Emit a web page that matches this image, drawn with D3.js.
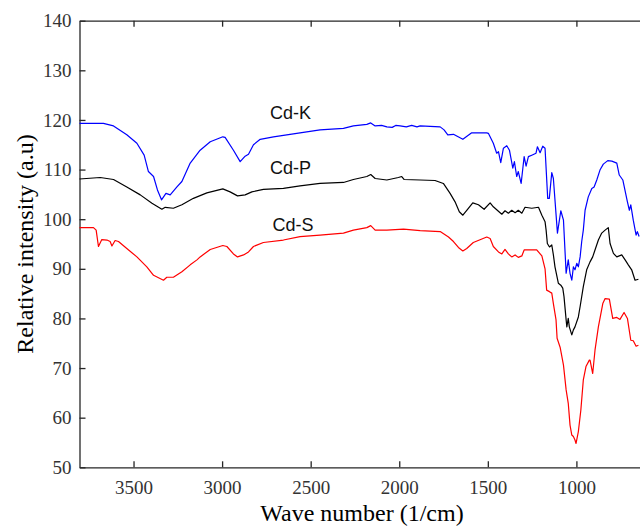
<!DOCTYPE html>
<html>
<head>
<meta charset="utf-8">
<script src="https://cdn.jsdelivr.net/npm/d3@7"></script>
<style>
  body { margin: 0; background: #fff; }
  .axis path, .axis line { stroke: #262626; stroke-width: 1.3; }
</style>
</head>
<body>
<div id="chart"></div>
<script>
var svgWidth = 640;
var svgHeight = 527;

// Cd-K (blue)
var kWave = [3805, 3670, 3613, 3538, 3481, 3440, 3416, 3387, 3365, 3342, 3317, 3293, 3255, 3227, 3180, 3124, 3067, 2996, 2983, 2936,
  2898, 2870, 2851, 2823, 2785, 2710, 2560, 2447, 2315, 2259, 2183, 2161, 2136, 2100, 2070, 2040, 2020, 1995, 1960, 1930,
  1900, 1882, 1769, 1747, 1726, 1694, 1641, 1591, 1506, 1497, 1469, 1450, 1440, 1427, 1412, 1393, 1378, 1359, 1350, 1337,
  1328, 1312, 1295, 1284, 1271, 1252, 1228, 1220, 1205, 1190, 1177, 1162, 1153, 1139, 1130, 1107, 1088, 1073, 1058, 1046,
  1036, 1026, 1017, 1008, 998, 989, 979, 970, 961, 951, 933, 913, 900, 885, 867, 848, 823, 800, 772, 758,
  738, 712, 701, 693, 679, 663, 656, 646];
var kInt = [119.3, 119.3, 118.8, 117.0, 115.3, 112.9, 109.6, 108.6, 105.9, 103.9, 105.2, 104.9, 106.5, 107.6, 111.3, 113.9, 115.6, 116.6, 116.5, 113.9,
  111.6, 112.7, 113.1, 115.0, 116.1, 116.6, 117.4, 118.0, 118.3, 118.8, 119.1, 119.4, 118.8, 118.9, 118.6, 118.5, 118.9, 118.8, 118.6, 118.9,
  118.6, 118.8, 118.6, 118.0, 117.0, 117.1, 116.1, 117.4, 117.4, 117.3, 115.3, 113.3, 113.6, 111.4, 114.3, 114.8, 113.9, 110.3, 111.6, 108.6,
  109.6, 107.2, 112.6, 110.7, 112.6, 112.9, 113.3, 114.6, 113.4, 114.7, 114.3, 104.2, 104.2, 109.4, 108.2, 97.2, 101.7, 99.8, 89.1, 91.8,
  89.1, 87.7, 90.4, 89.8, 91.1, 90.4, 92.4, 95.5, 97.8, 101.8, 104.5, 106.2, 106.5, 107.9, 109.9, 111.1, 111.8, 111.7, 111.3, 108.9,
  107.9, 103.5, 101.8, 102.9, 99.8, 96.8, 97.5, 96.5];

// Cd-P (black)
var pWave = [3805, 3688, 3613, 3538, 3462, 3396, 3340, 3321, 3275, 3227, 3162, 3086, 2996, 2955, 2913, 2870, 2832, 2767, 2654, 2560,
  2447, 2315, 2259, 2183, 2161, 2136, 2070, 2005, 1986, 1973, 1882, 1798, 1751, 1713, 1685, 1661, 1641, 1619, 1585, 1553,
  1521, 1487, 1469, 1421, 1403, 1384, 1365, 1346, 1328, 1308, 1290, 1252, 1214, 1195, 1177, 1171, 1164, 1152, 1139, 1130,
  1121, 1102, 1088, 1077, 1070, 1058, 1054, 1046, 1040, 1026, 1017, 1008, 989, 979, 961, 942, 923, 908, 895, 876,
  857, 838, 820, 810, 791, 772, 744, 725, 707, 688, 669, 650];
var pInt = [108.1, 108.4, 108.0, 106.5, 104.9, 103.2, 102.0, 102.4, 102.2, 102.9, 104.2, 105.3, 106.1, 105.5, 104.7, 104.9, 105.5, 106.0, 106.2, 106.7,
  107.2, 107.4, 108.0, 108.6, 109.0, 108.2, 107.9, 108.4, 108.6, 108.0, 107.9, 107.8, 107.2, 105.2, 103.5, 101.5, 100.8, 101.8, 103.3, 102.9,
  102.0, 103.3, 102.5, 101.0, 101.7, 101.2, 101.8, 101.3, 101.8, 101.2, 102.4, 102.2, 102.4, 100.8, 99.5, 97.8, 95.1, 94.4, 94.8, 92.8,
  90.4, 87.1, 86.7, 86.1, 84.4, 79.7, 78.3, 80.0, 78.3, 76.7, 77.7, 78.3, 80.3, 82.4, 86.4, 89.8, 91.4, 92.4, 93.8, 95.8,
  97.2, 97.8, 98.3, 95.1, 93.1, 92.4, 92.8, 91.8, 90.8, 89.8, 87.7, 87.9];

// Cd-S (red)
var sWave = [3805, 3726, 3711, 3698, 3679, 3650, 3632, 3622, 3604, 3585, 3538, 3481, 3425, 3387, 3331, 3312, 3275, 3227, 3180, 3142,
  3124, 3067, 2996, 2973, 2936, 2913, 2879, 2851, 2823, 2767, 2654, 2560, 2447, 2315, 2259, 2183, 2161, 2136, 2070, 1976,
  1882, 1769, 1722, 1694, 1666, 1641, 1619, 1582, 1506, 1487, 1469, 1440, 1421, 1403, 1384, 1365, 1346, 1328, 1308, 1295,
  1224, 1195, 1177, 1168, 1152, 1139, 1130, 1115, 1109, 1092, 1073, 1058, 1046, 1036, 1026, 1017, 1008, 1002, 989, 975,
  961, 946, 927, 923, 908, 895, 876, 851, 838, 814, 795, 772, 754, 731, 712, 693, 679, 663, 650];
var sInt = [98.3, 98.3, 97.8, 94.5, 95.9, 95.8, 95.5, 94.6, 95.7, 95.5, 94.1, 92.4, 90.4, 88.7, 87.7, 88.3, 88.3, 89.4, 90.8, 91.8,
  92.4, 93.9, 94.7, 94.5, 93.0, 92.4, 92.8, 93.4, 94.5, 95.3, 95.8, 96.5, 96.8, 97.2, 97.8, 98.3, 98.7, 97.8, 97.8, 98.0,
  97.7, 97.5, 96.4, 95.5, 94.3, 93.6, 94.1, 95.3, 96.4, 96.1, 94.5, 93.4, 93.0, 93.9, 93.0, 92.4, 92.8, 92.3, 92.6, 93.8,
  93.8, 92.6, 90.0, 85.7, 85.4, 85.1, 83.0, 79.7, 76.0, 74.2, 70.6, 65.6, 62.9, 58.5, 56.5, 56.2, 55.5, 54.8, 57.2, 61.5,
  67.6, 70.3, 71.6, 71.6, 68.9, 73.6, 78.3, 83.0, 84.0, 83.9, 80.0, 80.2, 79.8, 81.2, 80.0, 75.6, 75.5, 74.4, 74.6];

var seriesNames = ["Cd-K", "Cd-P", "Cd-S"];
var seriesColors = ["#0000ff", "#000000", "#ff0000"];
// label anchor points in data units (wave number, intensity)
var labelWave = [2730, 2730, 2715];
var labelInt = [120.2, 109.1, 97.6];

var xTicks = [3500, 3000, 2500, 2000, 1500, 1000];
var yTicks = [50, 60, 70, 80, 90, 100, 110, 120, 130, 140];

var plotLeft = 79.5, plotRight = 640, plotTop = 20.7, plotBottom = 467.3;
var serif = "Liberation Serif, Times New Roman, serif";

var svg = d3.select("#chart")
  .append("svg")
  .attr("width", svgWidth)
  .attr("height", svgHeight);

var x = d3.scaleLinear().domain([3805, 641]).range([plotLeft, plotRight]);
var y = d3.scaleLinear().domain([50, 140]).range([plotBottom, plotTop]);

// axes, ticks pointing inward
var xAxis = svg.append("g")
  .attr("class", "axis")
  .attr("transform", `translate(0, ${plotBottom})`)
  .call(d3.axisBottom(x).tickValues(xTicks).tickFormat(d3.format("d"))
    .tickSizeInner(-6).tickSizeOuter(0).tickPadding(13));

svg.append("g")
  .attr("class", "axis")
  .attr("transform", `translate(0, ${plotTop})`)
  .call(d3.axisTop(x).tickValues(xTicks).tickSizeInner(-6).tickSizeOuter(0).tickFormat(""));

var yAxis = svg.append("g")
  .attr("class", "axis")
  .attr("transform", `translate(${plotLeft}, 0)`)
  .call(d3.axisLeft(y).tickValues(yTicks).tickSizeInner(-6).tickSizeOuter(0).tickPadding(8));

[xAxis, yAxis].forEach(function(g) {
  g.selectAll(".tick text")
    .style("font-family", serif)
    .style("font-size", "19px")
    .attr("fill", "#333");
});

// spectra
var waves = [kWave, pWave, sWave];
var ints = [kInt, pInt, sInt];

var line = d3.line()
  .x(d => x(d[0]))
  .y(d => y(d[1]));

waves.forEach(function(w, i) {
  var pts = w.map((v, j) => [v, ints[i][j]]);
  svg.append("path")
    .datum(pts)
    .attr("fill", "none")
    .attr("stroke", seriesColors[i])
    .attr("stroke-width", 1.2)
    .attr("stroke-linejoin", "round")
    .attr("d", line);

  svg.append("text")
    .attr("x", x(labelWave[i]))
    .attr("y", y(labelInt[i]))
    .attr("font-family", "Liberation Sans, Arial, sans-serif")
    .attr("font-size", 18)
    .attr("fill", "#111")
    .text(seriesNames[i]);
});

// axis titles
svg.append("text")
  .attr("x", 362)
  .attr("y", 521)
  .attr("text-anchor", "middle")
  .style("font-family", serif)
  .style("font-size", "24px")
  .attr("fill", "#000")
  .text("Wave number (1/cm)");

svg.append("text")
  .attr("transform", "translate(33, 244) rotate(-90)")
  .attr("text-anchor", "middle")
  .style("font-family", serif)
  .style("font-size", "24px")
  .attr("fill", "#000")
  .text("Relative intensity (a.u)");
</script>
</body>
</html>
